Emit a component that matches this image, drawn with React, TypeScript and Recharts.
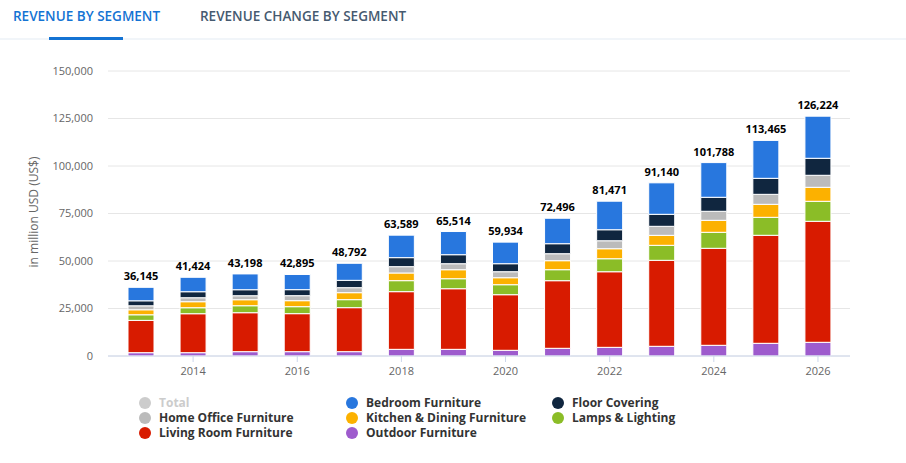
import React from 'react';
import { BarChart, Bar, XAxis, YAxis, CartesianGrid, LabelList } from 'recharts';

// ─── data (million USD) ─────────────────────────────────────────────
const years = [2013, 2014, 2015, 2016, 2017, 2018, 2019, 2020, 2021, 2022, 2023, 2024, 2025, 2026];
const totals = [36145, 41424, 43198, 42895, 48792, 63589, 65514, 59934, 72496, 81471, 91140, 101788, 113465, 126224];
const outdoor = [1750, 1750, 2280, 2280, 2280, 3510, 3510, 3000, 4050, 4560, 5100, 5630, 6680, 7210];
const livingRoom = [17000, 20500, 20500, 20000, 23160, 30350, 31900, 29260, 35580, 39790, 45260, 51050, 56840, 63680];
const lamps = [2950, 3160, 3680, 3680, 4210, 5790, 5260, 5260, 5790, 6840, 7890, 8420, 9470, 10530];
const kitchen = [2630, 3160, 3160, 3160, 3680, 4040, 4740, 3680, 4740, 5260, 5260, 6320, 6840, 7370];
const homeOffice = [2100, 2100, 2100, 2630, 2630, 3330, 3160, 3160, 3680, 4210, 4740, 4740, 5260, 6320];
const floorCovering = [2630, 3160, 3160, 3160, 3860, 4740, 4740, 4210, 5260, 5790, 6320, 7370, 8420, 8950];
const bedroom = [7085, 7594, 8318, 7985, 8972, 11829, 12204, 11364, 13396, 15021, 16570, 18258, 19955, 22164];
const yTicks = [0, 25000, 50000, 75000, 100000, 125000, 150000];

const series = [
  { key: 'outdoor', name: 'Outdoor Furniture', color: '#9e5bcd', values: outdoor },
  { key: 'livingRoom', name: 'Living Room Furniture', color: '#d81b00', values: livingRoom },
  { key: 'lamps', name: 'Lamps & Lighting', color: '#8bbd27', values: lamps },
  { key: 'kitchen', name: 'Kitchen & Dining Furniture', color: '#fcb100', values: kitchen },
  { key: 'homeOffice', name: 'Home Office Furniture', color: '#bbbbbb', values: homeOffice },
  { key: 'floorCovering', name: 'Floor Covering', color: '#10263f', values: floorCovering },
  { key: 'bedroom', name: 'Bedroom Furniture', color: '#2877de', values: bedroom },
];

const data = years.map((year, i) => {
  const row: Record<string, number> = { year, total: totals[i] };
  series.forEach((s) => {
    row[s.key] = s.values[i];
  });
  return row;
});

// legend order as in the reference (3 columns)
const legendItems = [
  { name: 'Total', color: '#cccccc', muted: true },
  { name: 'Bedroom Furniture', color: '#2877de' },
  { name: 'Floor Covering', color: '#10263f' },
  { name: 'Home Office Furniture', color: '#bbbbbb' },
  { name: 'Kitchen & Dining Furniture', color: '#fcb100' },
  { name: 'Lamps & Lighting', color: '#8bbd27' },
  { name: 'Living Room Furniture', color: '#d81b00' },
  { name: 'Outdoor Furniture', color: '#9e5bcd' },
];

const FONT = "'Open Sans', 'DejaVu Sans', sans-serif";
const fmt = (v: number) => v.toLocaleString('en-US');

const XTick = (props: any) => {
  const { x, y, payload } = props;
  const yr = Number(payload.value);
  if (yr % 2 !== 0) return <g />;
  return (
    <g>
      <line x1={x} x2={x} y1={y} y2={y + 6} stroke="#ccd6eb" />
      <text x={x} y={y + 19} textAnchor="middle" fill="#666666" fontSize={11} fontFamily={FONT}>
        {yr}
      </text>
    </g>
  );
};

const App: React.FC = () => {
  const colX = [139, 346, 552];
  return (
    <div style={{ position: 'absolute', left: 0, top: 0, width: 906, height: 463, background: '#fff', fontFamily: FONT, overflow: 'hidden' }}>
      {/* tabs */}
      <div style={{ position: 'absolute', left: 13, top: 7, fontSize: 13.5, lineHeight: '18px', fontWeight: 600, color: '#1473d3' }}>
        REVENUE BY SEGMENT
      </div>
      <div style={{ position: 'absolute', left: 200, top: 7, fontSize: 13.5, lineHeight: '18px', fontWeight: 600, color: '#465a70' }}>
        REVENUE CHANGE BY SEGMENT
      </div>
      <div style={{ position: 'absolute', left: 0, top: 38, width: 906, height: 2, background: '#f1f5f9' }} />
      <div style={{ position: 'absolute', left: 49, top: 37, width: 74, height: 3, background: '#1473d3' }} />

      {/* y axis title */}
      <div
        style={{
          position: 'absolute',
          left: 34,
          top: 212,
          transform: 'translate(-50%, -50%) rotate(-90deg)',
          whiteSpace: 'nowrap',
          fontSize: 12,
          lineHeight: '14px',
          color: '#666666',
        }}
      >
        in million USD (US$)
      </div>

      <div style={{ position: 'absolute', left: 0, top: 0 }}>
        <BarChart width={906} height={463} data={data} margin={{ top: 71, right: 56, bottom: 77, left: 20 }}>
          <CartesianGrid vertical={false} stroke="#e6e6e6" />
          <XAxis
            dataKey="year"
            type="category"
            padding={{ left: 7, right: 6 }}
            axisLine={{ stroke: '#ccd6eb' }}
            tickLine={false}
            tickSize={0}
            tickMargin={0}
            interval={0}
            height={30}
            tick={<XTick />}
          />
          <YAxis
            type="number"
            domain={[0, 150000]}
            ticks={yTicks}
            width={88}
            axisLine={false}
            tickLine={false}
            tickSize={0}
            tickMargin={15}
            tickFormatter={fmt}
            tick={{ fill: '#666666', fontSize: 11, fontFamily: FONT }}
          />
          {series.map((s, idx) => (
            <Bar
              key={s.key}
              dataKey={s.key}
              name={s.name}
              stackId="a"
              fill={s.color}
              stroke="#ffffff"
              strokeWidth={1}
              barSize={26}
              isAnimationActive={false}
            >
              {idx === series.length - 1 && (
                <LabelList
                  dataKey="total"
                  position="top"
                  offset={7}
                  formatter={(v: any) => fmt(Number(v))}
                  style={{ fill: '#000000', fontSize: 11, fontWeight: 700, fontFamily: FONT }}
                />
              )}
            </Bar>
          ))}
        </BarChart>
      </div>

      {/* legend */}
      {legendItems.map((item, i) => {
        const col = i % 3;
        const row = Math.floor(i / 3);
        return (
          <div
            key={item.name}
            style={{
              position: 'absolute',
              left: colX[col],
              top: 395 + row * 15,
              height: 15,
              display: 'flex',
              alignItems: 'center',
              fontSize: 12,
              lineHeight: '15px',
              fontWeight: 700,
              color: item.muted ? '#cccccc' : '#333333',
              whiteSpace: 'nowrap',
            }}
          >
            <span style={{ display: 'inline-block', width: 12, height: 12, borderRadius: 6, background: item.color, marginRight: 8 }} />
            {item.name}
          </div>
        );
      })}
    </div>
  );
};

export default App;
